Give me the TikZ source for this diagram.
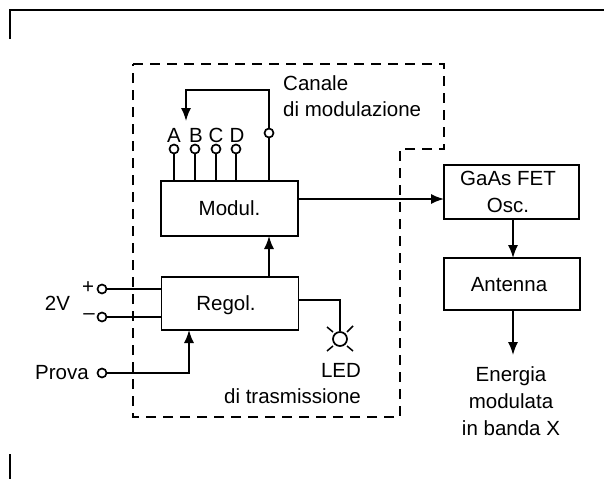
\documentclass[tikz,border=0pt]{standalone}
\usepackage{fontspec}
\setmainfont{Liberation Sans}
\usetikzlibrary{arrows.meta}
\tikzset{
 x=1pt,y=-1pt,
 wire/.style={line width=1.5pt},
 blockbox/.style={draw,line width=1.5pt,minimum width=137pt,inner sep=0pt,align=center,font=\fontsize{20.5}{27}\selectfont},
 onerow/.style={text height=14.5pt,text depth=0pt},
 term/.style={circle,draw,line width=1.7pt,fill=white,minimum size=9pt,inner sep=0pt},
 lab/.style={inner sep=0pt,font=\fontsize{20.5}{25}\selectfont,align=center,anchor=base},
 flow/.style={wire,-{Latex[length=13pt,width=10pt]}},
 frameline/.style={line width=2pt},
 bound/.style={line width=1.6pt,dash pattern=on 10pt off 7pt}
}
\begin{document}
\begin{tikzpicture}
\useasboundingbox (0,0) rectangle (604,479);
\draw[frameline] (10,39) -- (10,10) -- (604,10);
\draw[frameline] (10,454) -- (10,479);
\draw[bound] (133,64) -- (444,64) -- (444,149) -- (400,149) -- (400,417) -- (133,417) -- cycle;
\node[blockbox,onerow,minimum height=55pt] (mod) at (229.5,208.5) {Modul.};
\node[blockbox,onerow,minimum height=53pt] (reg) at (230,303.5) {\kern-8pt Regol.};
\node[blockbox,minimum width=135pt,minimum height=54pt] (gaas) at (511.5,192) {\hspace*{-7pt}GaAs FET\\\hspace*{-7pt}Osc.};
\node[blockbox,onerow,minimum width=136pt,minimum height=52pt] (ant) at (512,284) {\kern-6pt Antenna};
% modulation channel pins
\foreach \n/\x in {a/174,b/195,c/216,d/236}{
  \node[term] (\n) at (\x,149) {};
  \coordinate (\n f) at (\x,181);
  \draw[wire] (\n) -- (\n f);
}
\node[lab] (la) at (174,142) {A};
\node[lab] (lb) at (196,142) {B};
\node[lab] (lc) at (216,142) {C};
\node[lab] (ld) at (237,142) {D};
\node[term] (sel) at (269,133) {};
\coordinate (self) at (269,181);
\coordinate (selt) at (269,90);
\coordinate (selc) at (186,90);
\coordinate (seld) at (186,121);
\draw[wire] (self) -- (sel);
\draw[flow] (sel) -- (selt) -- (selc) -- (seld);
\node[lab,anchor=base west] (canale) at (283,90) {Canale};
\node[lab,anchor=base west] (dimod) at (283,116) {di modulazione};
% flows
\coordinate (regt) at (269,276);
\coordinate (modb) at (269,236);
\draw[flow] (regt) -- (modb);
\coordinate (modr) at (298,199);
\coordinate (gaasl) at (444,199);
\draw[flow] (modr) -- (gaasl);
\coordinate (gaasb) at (513,219);
\coordinate (antt) at (513,258);
\draw[flow] (gaasb) -- (antt);
\coordinate (antb) at (513,310);
\coordinate (endf) at (513,355);
\draw[flow] (antb) -- (endf);
% inputs
\node[term] (plus) at (102,289) {};
\node[term] (minus) at (102,317) {};
\node[term] (prova) at (102,373) {};
\coordinate (regp) at (162,289);
\coordinate (regm) at (162,317);
\coordinate (provac) at (189,373);
\coordinate (regb) at (189,330);
\draw[wire] (plus) -- (regp);
\draw[wire] (minus) -- (regm);
\draw[flow] (prova) -- (provac) -- (regb);
\node[lab,anchor=center] (lplus) at (88,288) {+};
\node[lab,anchor=center] (lminus) at (89,317) {–};
\node[lab] (l2v) at (57.5,310) {2V};
\node[lab,anchor=base east] (lprova) at (89,379) {Prova};
% LED
\node[circle,draw,line width=1.7pt,minimum size=14pt,inner sep=0pt] (led) at (340,339) {};
\coordinate (regr) at (298,300);
\coordinate (ledc) at (340,300);
\draw[wire] (regr) -- (ledc) -- (led);
\coordinate (r1a) at (327,327);\coordinate (r1b) at (333,332);
\coordinate (r2a) at (353,326);\coordinate (r2b) at (347,332);
\coordinate (r3a) at (327,351);\coordinate (r3b) at (333,346);
\coordinate (r4a) at (353,351);\coordinate (r4b) at (347,346);
\draw[wire] (r1a) -- (r1b) (r2a) -- (r2b) (r3a) -- (r3b) (r4a) -- (r4b);
\node[lab] (lled) at (341,377) {LED};
\node[lab] (ltx) at (292.5,403) {di trasmissione};
\node[lab] (l1) at (511,381) {Energia};
\node[lab] (l2) at (511,408) {modulata};
\node[lab] (l3) at (511,435) {in banda X};
\end{tikzpicture}
\end{document}
